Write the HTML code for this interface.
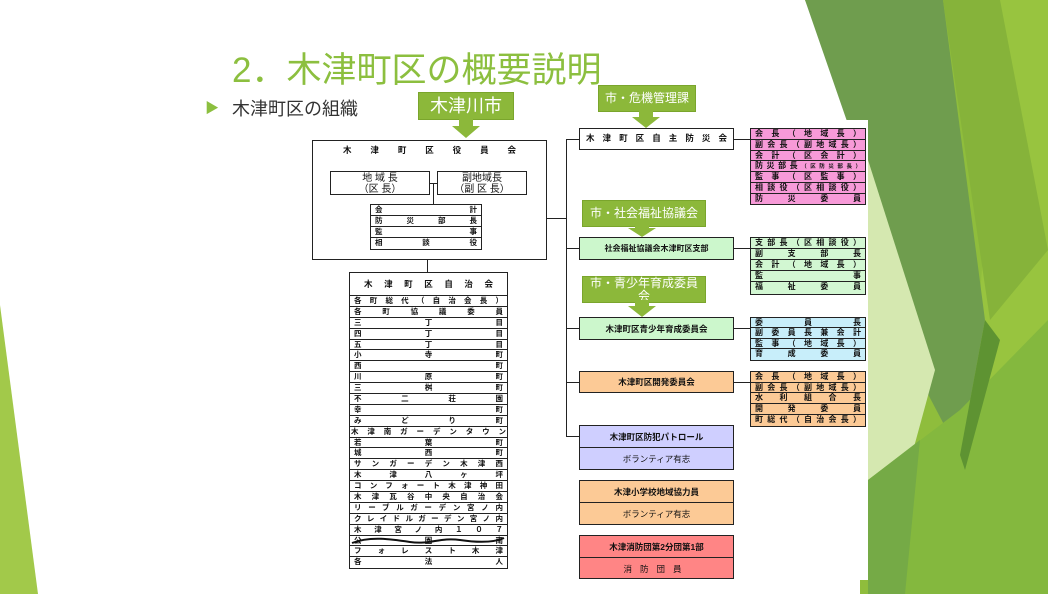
<!DOCTYPE html>
<html><head><meta charset="utf-8"><style>
body{margin:0;width:1048px;height:594px;overflow:hidden;background:#fff;position:relative;font-family:"Liberation Sans","Noto Sans CJK JP",sans-serif}
.a{position:absolute;box-sizing:border-box}
.bx{position:absolute;box-sizing:border-box;border:1.5px solid #222;font-size:8.5px;font-weight:bold;color:#111}
.r{box-sizing:border-box;border-bottom:1px solid #222;padding:0 4px;text-align:justify;text-align-last:justify;white-space:nowrap;overflow:hidden}
.r:last-child{border-bottom:none}
.c{display:flex;align-items:center;justify-content:center}
.lbl{position:absolute;background:#8cb83a;color:#fff;font-size:12px;display:flex;align-items:center;justify-content:center;text-align:center;line-height:13px;border:1px solid #7aa52c}
.hl{position:absolute;background:#222;height:1px}
.vl{position:absolute;background:#222;width:1px}
</style></head><body>
<svg class="a" style="left:0;top:0" width="1048" height="594">
<polygon points="0,305 38,594 0,594" fill="#a2c94a"/>
<polygon points="805,0 1048,0 1048,594 860,594 860,130" fill="#8fbd3c"/>
<polygon points="1000,0 1048,0 1048,594 960,594" fill="#98c43f"/>
<polygon points="805,0 943,0 985,320 960,455 868,280 850,130" fill="#6f9d4e"/>
<polygon points="943,0 1000,0 1048,250 990,320" fill="#86b33a"/>
<polygon points="868,160 935,370 905,480 868,480" fill="#d5e8b0"/>
<polygon points="868,480 960,410 1048,320 1048,594 868,594" fill="#84b83e"/>
<polygon points="960,455 985,320 1000,340 965,470" fill="#5e9332"/>
<polygon points="868,480 920,440 905,594 868,594" fill="#75aa46"/>
</svg>
<div class="a" style="left:300px;top:120px;width:568px;height:460px;background:#fff"></div>
<div class="a" style="left:232px;top:42px;font-size:35px;color:#8cbf3f;white-space:nowrap">2．木津町区の概要説明</div>
<div class="a" style="left:205px;top:98px;font-size:14px;color:#8cbf3f">▶</div>
<div class="a" style="left:232px;top:95px;font-size:18px;color:#333">木津町区の組織</div>

<div class="lbl" style="left:418px;top:92px;width:94px;height:26px;font-size:18px">木津川市</div>
<svg class="a" style="left:452px;top:117px" width="28" height="22"><polygon points="7,0 21,0 21,9 28,9 14,21 0,9 7,9" fill="#8cb83a"/></svg>
<div class="lbl" style="left:598px;top:85px;width:96px;height:25px">市・危機管理課</div>
<svg class="a" style="left:632px;top:109px" width="28" height="20"><polygon points="7,0 21,0 21,8 28,8 14,19 0,8 7,8" fill="#8cb83a"/></svg>
<div class="lbl" style="left:582px;top:200px;width:122px;height:25px">市・社会福祉協議会</div>
<svg class="a" style="left:628px;top:224px" width="28" height="14"><polygon points="7,0 21,0 21,4 28,4 14,13 0,4 7,4" fill="#8cb83a"/></svg>
<div class="lbl" style="left:582px;top:276px;width:122px;height:25px">市・青少年育成委員<br>会</div>
<svg class="a" style="left:628px;top:300px" width="28" height="18"><polygon points="7,0 21,0 21,6 28,6 14,17 0,6 7,6" fill="#8cb83a"/></svg>

<div class="bx" style="left:312px;top:140px;width:235px;height:120px">
<div class="r c" style="height:20px;padding:0 30px;display:block;line-height:19px">木津町区役員会</div></div>
<div class="bx" style="left:330px;top:171px;width:100px;height:24px;font-size:10px;font-weight:normal;text-align:center;line-height:11px;padding-top:1px">地 域 長<br>（区 長）</div>
<div class="bx" style="left:437px;top:171px;width:90px;height:24px;font-size:10px;font-weight:normal;text-align:center;line-height:11px;padding-top:1px">副地域長<br>（副 区 長）</div>
<div class="hl" style="left:430px;top:183px;width:7px"></div>
<div class="vl" style="left:433px;top:183px;height:21px"></div>
<div class="bx" style="left:370px;top:204px;width:112px;height:46px;font-size:7.5px">
<div class="r" style="height:11px;line-height:10px">会　　計</div><div class="r" style="height:11px;line-height:10px">防災部長</div><div class="r" style="height:11px;line-height:10px">監　　事</div><div class="r" style="height:11px;line-height:10px">相談役</div></div>
<div class="vl" style="left:427px;top:260px;height:12px"></div>

<div class="bx" style="left:349px;top:272px;width:159px;height:297px;font-size:7.5px">
<div class="r" style="height:23px;line-height:22px;padding:0 14px;font-size:8.5px">木津町区自治会</div>
<div class="r" style="height:10.9px;line-height:10px">各町総代（自治会長）</div>
<div class="r" style="height:10.9px;line-height:10px">各町協議委員</div>
<div class="r" style="height:10.9px;line-height:10px">三丁目</div>
<div class="r" style="height:10.9px;line-height:10px">四丁目</div>
<div class="r" style="height:10.9px;line-height:10px">五丁目</div>
<div class="r" style="height:10.9px;line-height:10px">小寺町</div>
<div class="r" style="height:10.9px;line-height:10px">西　　町</div>
<div class="r" style="height:10.9px;line-height:10px">川原町</div>
<div class="r" style="height:10.9px;line-height:10px">三桝町</div>
<div class="r" style="height:10.9px;line-height:10px">不二荘園</div>
<div class="r" style="height:10.9px;line-height:10px">幸　　町</div>
<div class="r" style="height:10.9px;line-height:10px">みどり町</div>
<div class="r" style="height:10.9px;line-height:10px;padding:0 1px">木津南ガーデンタウン</div>
<div class="r" style="height:10.9px;line-height:10px">若葉町</div>
<div class="r" style="height:10.9px;line-height:10px">城西町</div>
<div class="r" style="height:10.9px;line-height:10px">サンガーデン木津西</div>
<div class="r" style="height:10.9px;line-height:10px">木津八ヶ坪</div>
<div class="r" style="height:10.9px;line-height:10px">コンフォート木津神田</div>
<div class="r" style="height:10.9px;line-height:10px">木津瓦谷中央自治会</div>
<div class="r" style="height:10.9px;line-height:10px">リーブルガーデン宮ノ内</div>
<div class="r" style="height:10.9px;line-height:10px">クレイドルガーデン宮ノ内</div>
<div class="r" style="height:10.9px;line-height:10px">木津宮ノ内１０７</div>
<div class="r" style="height:10.9px;line-height:10px;position:relative">公園南<svg style="position:absolute;left:0;top:0" width="156" height="11"><path d="M2,7 C20,0 40,3 60,6 C80,9 90,1 110,4 C130,7 145,6 154,2" stroke="#111" stroke-width="2" fill="none"/></svg></div>
<div class="r" style="height:10.9px;line-height:10px">フォレスト木津</div>
<div class="r" style="height:10.9px;line-height:10px">各法人</div>
</div>

<div class="hl" style="left:547px;top:218px;width:19px"></div>
<div class="vl" style="left:566px;top:139px;height:298px"></div>
<div class="hl" style="left:566px;top:139px;width:13px"></div>
<div class="hl" style="left:566px;top:248px;width:13px"></div>
<div class="hl" style="left:566px;top:328px;width:13px"></div>
<div class="hl" style="left:566px;top:382px;width:13px"></div>
<div class="hl" style="left:566px;top:436px;width:13px"></div>
<div class="hl" style="left:734px;top:139px;width:16px"></div>
<div class="hl" style="left:734px;top:248px;width:16px"></div>
<div class="hl" style="left:734px;top:328px;width:16px"></div>
<div class="hl" style="left:734px;top:382px;width:16px"></div>

<div class="bx" style="left:579px;top:128px;width:155px;height:22px;background:#fff;line-height:19px;padding:0 6px;text-align:justify;text-align-last:justify">木津町区自主防災会</div>
<div class="bx c" style="left:579px;top:237px;width:155px;height:23px;background:#ccf7cc;font-size:8px">社会福祉協議会木津町区支部</div>
<div class="bx c" style="left:579px;top:317px;width:155px;height:23px;background:#ccf7cc">木津町区青少年育成委員会</div>
<div class="bx c" style="left:579px;top:371px;width:155px;height:22px;background:#fcca96">木津町区開発委員会</div>
<div class="bx" style="left:579px;top:425px;width:155px;height:45px;background:#cfcfff"><div class="c" style="height:21px;border-bottom:1px solid #222">木津町区防犯パトロール</div><div class="c" style="height:21px;font-weight:normal">ボランティア有志</div></div>
<div class="bx" style="left:579px;top:480px;width:155px;height:45px;background:#fcca96"><div class="c" style="height:21px;border-bottom:1px solid #222">木津小学校地域協力員</div><div class="c" style="height:21px;font-weight:normal">ボランティア有志</div></div>
<div class="bx" style="left:579px;top:535px;width:155px;height:44px;background:#ff8585"><div class="c" style="height:21px;border-bottom:1px solid #222">木津消防団第2分団第1部</div><div class="c" style="height:21px;font-weight:normal;letter-spacing:8px">消防団員</div></div>

<div class="bx" style="left:750px;top:128px;width:116px;height:77px;background:#f79ad8;font-size:8px">
<div class="r" style="height:10.8px;line-height:10px">会長（地域長）</div><div class="r" style="height:10.8px;line-height:10px">副会長（副地域長）</div><div class="r" style="height:10.8px;line-height:10px">会計（区会計）</div><div class="r" style="height:10.8px;line-height:10px">防災部長<span style="font-size:5.5px">（区防災部長）</span></div><div class="r" style="height:10.8px;line-height:10px">監事（区監事）</div><div class="r" style="height:10.8px;line-height:10px">相談役（区相談役）</div><div class="r" style="height:10.8px;line-height:10px">防災委員</div></div>
<div class="bx" style="left:750px;top:237px;width:116px;height:58px;background:#d2f7d2;font-size:8px">
<div class="r" style="height:11px;line-height:10px">支部長（区相談役）</div><div class="r" style="height:11px;line-height:10px">副支部長</div><div class="r" style="height:11px;line-height:10px">会計（地域長）</div><div class="r" style="height:11px;line-height:10px">監　　事</div><div class="r" style="height:11px;line-height:10px">福祉委員</div></div>
<div class="bx" style="left:750px;top:317px;width:116px;height:44px;background:#c8eefa;font-size:8px">
<div class="r" style="height:10.3px;line-height:10px">委員長</div><div class="r" style="height:10.3px;line-height:10px">副委員長兼会計</div><div class="r" style="height:10.3px;line-height:10px">監事（地域長）</div><div class="r" style="height:10.3px;line-height:10px">育成委員</div></div>
<div class="bx" style="left:750px;top:371px;width:116px;height:56px;background:#fcca96;font-size:8px">
<div class="r" style="height:10.7px;line-height:10px">会長（地域長）</div><div class="r" style="height:10.7px;line-height:10px">副会長（副地域長）</div><div class="r" style="height:10.7px;line-height:10px">水利組合長</div><div class="r" style="height:10.7px;line-height:10px">開発委員</div><div class="r" style="height:10.7px;line-height:10px">町総代（自治会長）</div></div>
</body></html>
